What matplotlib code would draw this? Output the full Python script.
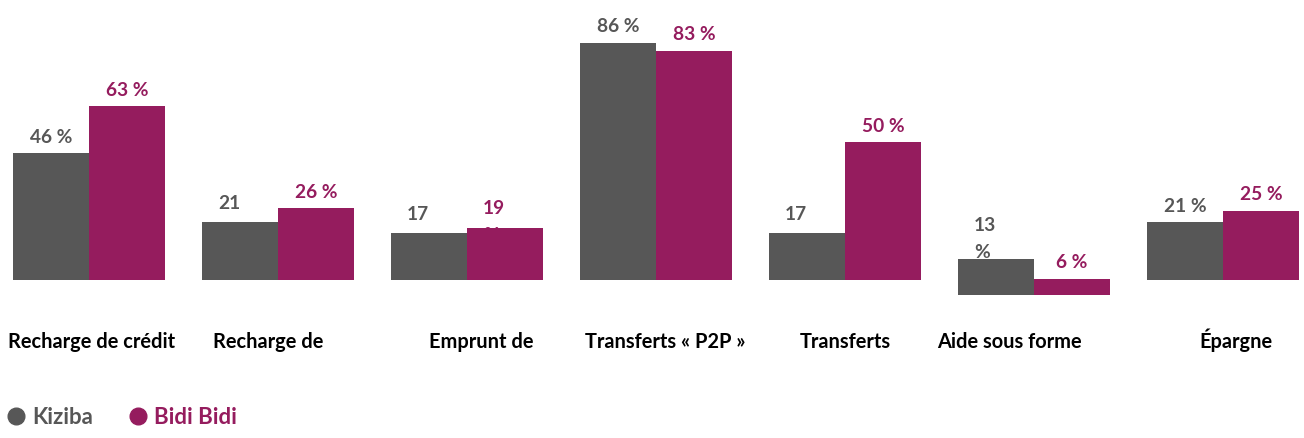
import numpy as np
import matplotlib.pyplot as plt
from matplotlib.lines import Line2D

plt.rcParams['font.family'] = ['Lato', 'DejaVu Sans']

# data
categories = ['Recharge de crédit', 'Recharge de', 'Emprunt de', 'Transferts « P2P »',
              'Transferts', 'Aide sous forme', 'Épargne']
kiziba = [46, 21, 17, 86, 17, 13, 21]
bidi = [63, 26, 19, 83, 50, 6, 25]
kiziba_labels = ['46 %', '21\n%', '17\n%', '86 %', '17\n%', '13\n%', '21 %']
bidi_labels = ['63 %', '26 %', '19\n%', '83 %', '50 %', '6 %', '25 %']
group_base = [0, 0, 0, 0, 0, -5.5, 0]   # the "Aide" group sits below the baseline

# layout
cat_nudge_px = [3, -10, 14, 9, 0, -25, 13]   # horizontal shift of the category names
GREY = '#575757'
MAGENTA = '#951c5e'
W = 0.402
PX = 0.72   # points per pixel at dpi 100
VFS = 13.8

fig = plt.figure(figsize=(13.04, 4.39), dpi=100)
ax = fig.add_axes([0, 1 - 300 / 439, 1, 300 / 439])
ax.set_xlim(-89 / 189, (1304 - 89) / 189)
ax.set_ylim(-19 / 2.76, 281 / 2.76)
ax.axis('off')

x = np.arange(len(categories))
ax.bar(x - W / 2, kiziba, W, bottom=group_base, color=GREY, zorder=3)
ax.bar(x + W / 2, bidi, W, bottom=group_base, color=MAGENTA, zorder=3)


def put_label(xc, val, base, txt, color):
    if '\n' in txt:
        first, second = txt.split('\n')
        ax.annotate(first, (xc, val), xytext=(-22 * PX, 20 * PX), textcoords='offset points',
                    ha='left', va='center', fontsize=VFS, fontweight='bold', color=color, zorder=1)
        ax.annotate(second, (xc, val), xytext=(-22 * PX, -7 * PX), textcoords='offset points',
                    ha='left', va='center', fontsize=VFS, fontweight='bold', color=color, zorder=1)
    else:
        ax.annotate(txt, (xc, val + base), xytext=(0, 17 * PX), textcoords='offset points',
                    ha='center', va='center', fontsize=VFS, fontweight='bold', color=color, zorder=4)


for i in range(len(categories)):
    put_label(x[i] - W / 2, kiziba[i], group_base[i], kiziba_labels[i], GREY)
    put_label(x[i] + W / 2, bidi[i], group_base[i], bidi_labels[i], MAGENTA)
    ax.annotate(categories[i], (x[i], 0), xytext=(cat_nudge_px[i] * PX, -67 * PX),
                textcoords='offset points', ha='center', va='baseline',
                fontsize=14.4, fontweight='bold', color='black', annotation_clip=False)

handles = [Line2D([], [], marker='o', ls='', color=GREY, markersize=12, label='Kiziba'),
           Line2D([], [], marker='o', ls='', color=MAGENTA, markersize=12, label='Bidi Bidi')]
fig.legend(handles=handles, loc='center left', bbox_to_anchor=(-0.002, 1 - 418 / 439), ncol=2,
           frameon=False, labelcolor=[GREY, MAGENTA], handletextpad=0.25, columnspacing=1.6,
           borderaxespad=0, handlelength=0.9, prop={'weight': 'bold', 'size': 16})

fig.savefig('out.png', dpi=100)
